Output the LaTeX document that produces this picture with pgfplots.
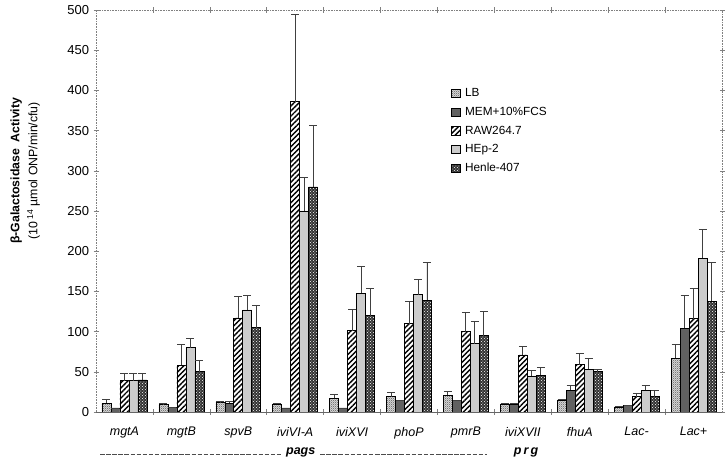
\documentclass[border=0pt]{standalone}
\usepackage{pgfplots}
\pgfplotsset{compat=1.18}
\usepackage{pgfplotstable}
\usepackage{fontspec}
\setmainfont{Liberation Sans}
\usetikzlibrary{patterns,patterns.meta}

\tikzdeclarepattern{
  name=finecheck,
  type=uncolored,
  bottom left={(0pt,0pt)},
  top right={(2.2pt,2.2pt)},
  tile size={(2.2pt,2.2pt)},
  code={
    \pgfpathrectangle{\pgfpointorigin}{\pgfpoint{1.1pt}{1.1pt}}
    \pgfpathrectangle{\pgfpoint{1.1pt}{1.1pt}}{\pgfpoint{1.1pt}{1.1pt}}
    \pgfusepath{fill}
  }
}

\pgfplotstableread{
x y e
0 11 4
1 9 1
2 12 1
3 10 1
4 17 5
5 19 5
6 21 4
7 10 1
8 15 1
9 6 1
10 67 17
}\LB
\pgfplotstableread{
x y e
0 5 0
1 6 0
2 11 2
3 5 0
4 5 0
5 14 0
6 14 0
7 10 1
8 27 6
9 8 0
10 104 41
}\MEM
\pgfplotstableread{
x y e
0 39 9
1 58 26
2 117 27
3 386 109
4 101 27
5 110 27
6 100 24
7 71 11
8 59 14
9 19 4
10 116 38
}\RAW
\pgfplotstableread{
x y e
0 39 9
1 80 11
2 127 18
3 250 42
4 148 33
5 146 19
6 85 28
7 45 7
8 53 14
9 27 6
10 191 36
}\HEP
\pgfplotstableread{
x y e
0 40 8
1 50 14
2 105 28
3 280 76
4 120 34
5 139 47
6 95 30
7 46 9
8 50 3
9 19 8
10 138 48
}\HEN

\begin{document}
\begin{tikzpicture}
\begin{axis}[
  scale only axis,
  width=626pt, height=402pt,
  ybar=0pt, bar width=0.158,
  xmin=-0.5, xmax=10.5,
  ymin=0, ymax=500,
  ytick={0,50,...,500},
  xtick={0,...,10},
  xticklabels={mgtA,mgtB,spvB,iviVI-A,iviXVI,phoP,pmrB,iviXVII,fhuA,Lac-,Lac+},
  minor xtick={0.5,1.5,...,9.5},
  major x tick style={draw=none},
  minor x tick style={gray, line width=0.5pt},
  minor tick length=6pt,
  ytick style={gray, line width=0.5pt},
  major tick length=5pt,
  tick align=center,
  xticklabel style={font=\fontsize{12.5}{14}\selectfont\itshape, yshift=-9pt},
  yticklabel style={font=\fontsize{13}{15}\selectfont, xshift=-1pt},
  /pgf/number format/assume math mode=true,
  axis line style={gray, densely dotted, line width=0.6pt},
  clip=false,
  ylabel={\textbf{β-Galactosidase\ \ Activity}\\[4pt](10\,\textsuperscript{14} µmol ONP/min/cfu)},
  ylabel style={align=center, font=\fontsize{12.3}{14}\selectfont, at={(axis description cs:-0.113,0.60)}, anchor=center},
  legend style={draw=none, fill=none, at={(axis description cs:0.567,0.81)}, anchor=north west,
    font=\fontsize{11.8}{13}\selectfont, row sep=5pt, inner sep=0pt},
  legend cell align=left,
  legend image code/.code={\draw[#1, line width=0.5pt] (0pt,-4.2pt) rectangle (8.5pt,4.3pt);},
  error bars/y dir=plus,
  error bars/y explicit,
  error bars/error bar style={black!75, line width=0.9pt},
  error bars/error mark options={black!75, line width=0.9pt, mark size=4pt, rotate=90},
]
\addplot[draw=black, line width=0.6pt, fill=gray!30, postaction={pattern=finecheck, pattern color=gray!95!black}]
  table[x=x, y=y, y error=e] {\LB};
\addlegendentry{\hspace{3pt}LB}
\addplot[draw=black, line width=0.6pt, fill=black!62]
  table[x=x, y=y, y error=e] {\MEM};
\addlegendentry{\hspace{3pt}MEM+10\%FCS}
\addplot[draw=black, line width=0.6pt, fill=white, postaction={pattern={Lines[angle=45, distance=3.6pt, line width=1.4pt]}, pattern color=black}]
  table[x=x, y=y, y error=e] {\RAW};
\addlegendentry{\hspace{3pt}RAW264.7}
\addplot[draw=black, line width=0.6pt, fill=gray!40]
  table[x=x, y=y, y error=e] {\HEP};
\addlegendentry{\hspace{3pt}HEp-2}
\addplot[draw=black, line width=0.6pt, fill=black!80, postaction={pattern=crosshatch dots, pattern color=white}]
  table[x=x, y=y, y error=e] {\HEN};
\addlegendentry{\hspace{3pt}Henle-407}
\draw[gray!80!black, line width=0.7pt] (axis description cs:0,0) -- (axis description cs:1,0);
\draw[black!70, line width=0.8pt, dash pattern=on 4.5pt off 1.6pt] (axis description cs:0.0064,-0.106) -- (axis description cs:0.297,-0.106);
\draw[black!70, line width=0.8pt, dash pattern=on 4.5pt off 1.6pt] (axis description cs:0.358,-0.106) -- (axis description cs:0.625,-0.106);
\node[font=\fontsize{12.5}{14}\selectfont\bfseries\itshape, anchor=base] at (axis description cs:0.327,-0.106) {pags};
\node[font=\fontsize{12.5}{14}\selectfont\bfseries\itshape, anchor=base] at (axis description cs:0.687,-0.106) {p\,r\,g};
\path (axis description cs:-0.1534,-0.1269) rectangle (axis description cs:1.0096,1.0249);
\end{axis}
\end{tikzpicture}
\end{document}
